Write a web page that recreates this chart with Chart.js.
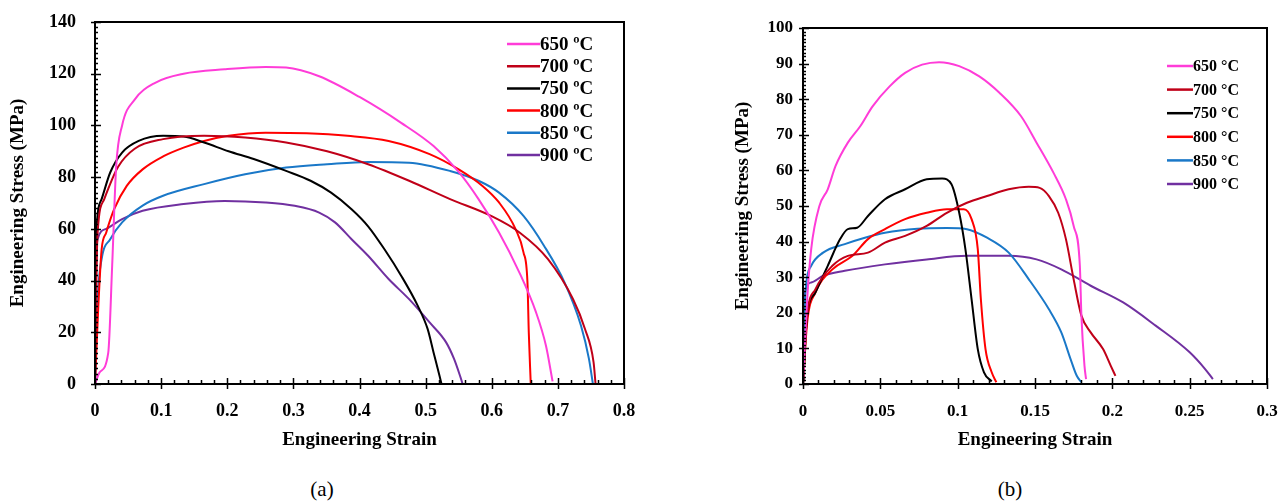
<!DOCTYPE html>
<html>
<head>
<meta charset="utf-8">
<script src="https://cdn.jsdelivr.net/npm/chart.js@4.4.0/dist/chart.umd.min.js"></script>
<style>
  body { margin: 0; background: #fff; width: 1282px; height: 502px; position: relative; overflow: hidden; font-family: 'Liberation Serif', serif; }
  #wrapA { position: absolute; left: 0; top: 0; width: 640px; height: 455px; }
  #wrapB { position: absolute; left: 640px; top: 0; width: 642px; height: 455px; }
  .cap { position: absolute; top: 477px; font-size: 21px; transform: translateX(-50%); color: #000; }
</style>
</head>
<body>
<div id="wrapA"><canvas id="chartA" width="640" height="455"></canvas></div>
<div id="wrapB"><canvas id="chartB" width="642" height="455"></canvas></div>
<div class="cap" style="left:322px">(a)</div>
<div class="cap" style="left:1010px">(b)</div>

<script>
// --- data: panel (a) ---
const labelsA = ['650 ºC', '700 ºC', '750 ºC', '800 ºC', '850 ºC', '900 ºC'];
const labelsB = ['650 °C', '700 °C', '750 °C', '800 °C', '850 °C', '900 °C'];
const colors = ['#ff3cd8', '#c00018', '#000000', '#ff0000', '#1a78c8', '#7030a0'];

const strainA650 = [0, 0.007, 0.02, 0.026, 0.032, 0.041, 0.06, 0.091, 0.134, 0.196, 0.258, 0.289, 0.339, 0.4, 0.463, 0.512, 0.55, 0.58, 0.611, 0.642, 0.667, 0.682, 0.692];
const stressA650 = [0, 4.5, 12, 46, 84, 100, 110, 116.5, 120, 121.7, 122.6, 122.4, 119, 111, 101, 92, 82, 71.5, 58.6, 43, 27.7, 14.8, 1];
const strainA700 = [0, 0.002, 0.004, 0.014, 0.035, 0.06, 0.103, 0.165, 0.227, 0.289, 0.351, 0.413, 0.475, 0.537, 0.599, 0.642, 0.685, 0.723, 0.741, 0.754, 0.757];
const stressA700 = [0, 40, 58.6, 71.5, 84, 91, 94.7, 96, 95.3, 93.4, 90, 85, 78.6, 71.5, 65, 58.6, 48.3, 32.8, 21.3, 8.4, 0];
const strainA750 = [0, 0.001, 0.002, 0.01, 0.023, 0.041, 0.066, 0.103, 0.134, 0.165, 0.202, 0.24, 0.289, 0.326, 0.357, 0.388, 0.413, 0.438, 0.463, 0.488, 0.503, 0.512, 0.521, 0.524];
const stressA750 = [0, 45, 58.6, 71.5, 81.8, 89.5, 94, 96, 95.7, 93.4, 90, 87, 82.4, 78.6, 74, 67.6, 61, 52, 41.9, 30.3, 21.3, 12.2, 3.2, 0];
const strainA800 = [0, 0.005, 0.01, 0.017, 0.029, 0.048, 0.072, 0.103, 0.134, 0.165, 0.202, 0.258, 0.32, 0.382, 0.444, 0.506, 0.55, 0.586, 0.611, 0.636, 0.648, 0.654, 0.656, 0.659];
const stressA800 = [0, 30, 52, 58.6, 67.6, 76.6, 83, 88, 91.4, 94, 96, 97.2, 97, 96, 94, 88.9, 83, 76.6, 70.2, 59.9, 50.9, 39.3, 20, 0];
const strainA850 = [0, 0.004, 0.01, 0.023, 0.041, 0.072, 0.103, 0.165, 0.227, 0.289, 0.351, 0.413, 0.475, 0.537, 0.58, 0.611, 0.648, 0.679, 0.71, 0.735, 0.747, 0.753];
const stressA850 = [0, 32.8, 48.3, 56, 62.5, 69, 72.8, 77.3, 81.1, 83.7, 85, 85.9, 85.6, 82.4, 78.6, 74, 65, 53.5, 39.3, 22.5, 9.7, 0];
const strainA900 = [0, 0.002, 0.004, 0.017, 0.041, 0.072, 0.134, 0.196, 0.258, 0.302, 0.339, 0.363, 0.388, 0.413, 0.444, 0.475, 0.506, 0.531, 0.543, 0.552, 0.556];
const stressA900 = [0, 48, 56, 60, 63.8, 67, 69.6, 70.8, 70.2, 68.9, 66.3, 62.5, 56, 49.6, 40.6, 32.8, 23.8, 16.1, 9.7, 3.2, 0];

// --- data: panel (b) ---
const strainB650 = [0, 0.0027, 0.0053, 0.0106, 0.016, 0.021, 0.029, 0.037, 0.045, 0.056, 0.066, 0.077, 0.088, 0.101, 0.114, 0.127, 0.141, 0.151, 0.162, 0.17, 0.175, 0.179, 0.18, 0.182, 0.183];
const stressB650 = [0, 23.8, 37.9, 50, 54.7, 61.2, 67.8, 72.4, 78, 83.6, 87.4, 89.7, 90.4, 89.3, 86.4, 81.8, 75.2, 67.8, 59.3, 51.9, 44.4, 33.2, 19.2, 5.1, 1.4];
const strainB700 = [0, 0.0027, 0.008, 0.019, 0.029, 0.042, 0.053, 0.066, 0.08, 0.093, 0.106, 0.119, 0.133, 0.146, 0.153, 0.159, 0.165, 0.17, 0.175, 0.18, 0.186, 0.194, 0.199, 0.202];
const stressB700 = [0, 19.2, 26.6, 33.2, 36, 36.9, 39.7, 41.6, 44.4, 48.1, 50.9, 52.8, 54.7, 55.4, 55.1, 52.8, 48.1, 40.7, 29.4, 19.2, 14.5, 9.8, 5.1, 2.3];
const strainB750 = [0, 0.0027, 0.008, 0.016, 0.024, 0.029, 0.035, 0.042, 0.053, 0.066, 0.08, 0.09, 0.096, 0.101, 0.105, 0.109, 0.113, 0.117, 0.122];
const stressB750 = [0, 19.2, 25.7, 33.2, 40.7, 43.5, 43.9, 47.2, 51.9, 54.7, 57.5, 57.7, 56.1, 48.1, 37.9, 23.8, 9.8, 3.3, 0.7];
const strainB800 = [0, 0.0027, 0.008, 0.019, 0.032, 0.042, 0.053, 0.066, 0.08, 0.093, 0.104, 0.109, 0.113, 0.115, 0.118, 0.122, 0.125];
const stressB800 = [0, 17.3, 25.7, 32.2, 36, 40.7, 43.5, 46.3, 48.1, 49.1, 49.1, 46.3, 37.9, 23.8, 9.8, 3.3, 0.5];
const strainB850 = [0, 0.0013, 0.0053, 0.013, 0.027, 0.04, 0.053, 0.074, 0.093, 0.106, 0.119, 0.133, 0.146, 0.159, 0.167, 0.173, 0.177, 0.18];
const stressB850 = [0, 23.8, 33.2, 36.9, 39.3, 41.1, 42.5, 43.6, 43.8, 43.5, 41.1, 36.9, 29.4, 21, 14.5, 7, 2.3, 0.5];
const strainB900 = [0, 0.0013, 0.0053, 0.013, 0.027, 0.053, 0.08, 0.106, 0.133, 0.151, 0.167, 0.186, 0.207, 0.228, 0.25, 0.26, 0.265];
const stressB900 = [0, 25.7, 28.5, 30.4, 31.8, 33.6, 35, 36, 36, 35, 32.2, 27.6, 22.9, 16.4, 8.9, 4.2, 1.4];

const seriesA = [[strainA650, stressA650], [strainA700, stressA700], [strainA750, stressA750], [strainA800, stressA800], [strainA850, stressA850], [strainA900, stressA900]];
const seriesB = [[strainB650, stressB650], [strainB700, stressB700], [strainB750, stressB750], [strainB800, stressB800], [strainB850, stressB850], [strainB900, stressB900]];

Chart.defaults.font.family = "'Liberation Serif', serif";
Chart.defaults.font.weight = 'bold';
Chart.defaults.color = '#000';

// frame, minor ticks and in-plot legend
const figFrame = {
    id: 'figFrame',
    afterDraw(chart, args, opts) {
        const { ctx, chartArea: a, scales: { x, y } } = chart;
        ctx.save();
        ctx.strokeStyle = '#000';
        ctx.lineWidth = 1.5;
        // minor ticks
        ctx.beginPath();
        for (let v = x.min; v <= x.max + 1e-9; v += opts.xMinor) {
            const px = Math.round(x.getPixelForValue(v)) + 0.5;
            ctx.moveTo(px, a.bottom); ctx.lineTo(px, a.bottom - 4);
        }
        for (let v = y.min; v <= y.max + 1e-9; v += opts.yMinor) {
            const py = Math.round(y.getPixelForValue(v)) + 0.5;
            ctx.moveTo(a.left, py); ctx.lineTo(a.left + 3, py);
        }
        // major ticks cross the axis
        x.ticks.forEach(t => {
            const px = Math.round(x.getPixelForValue(t.value)) + 0.5;
            ctx.moveTo(px, a.bottom - 6); ctx.lineTo(px, a.bottom + 5);
        });
        y.ticks.forEach(t => {
            const py = Math.round(y.getPixelForValue(t.value)) + 0.5;
            ctx.moveTo(a.left - 4, py); ctx.lineTo(a.left + 6, py);
        });
        ctx.stroke();
        // box
        ctx.lineWidth = 2;
        ctx.strokeRect(a.left, a.top, a.right - a.left, a.bottom - a.top);
        // legend
        ctx.font = 'bold ' + opts.fontSize + 'px "Liberation Serif"';
        ctx.textBaseline = 'middle';
        ctx.textAlign = 'left';
        chart.data.datasets.forEach((ds, i) => {
            const ly = opts.legendY + i * opts.legendGap;
            ctx.strokeStyle = ds.borderColor;
            ctx.lineWidth = 2.5;
            ctx.beginPath();
            ctx.moveTo(opts.legendX, ly); ctx.lineTo(opts.legendX + opts.legendLine, ly);
            ctx.stroke();
            ctx.fillStyle = '#000';
            ctx.fillText(ds.label, opts.legendX + opts.legendLine, ly + 1);
        });
        ctx.restore();
    }
};

function fmt(v) { return String(+v.toFixed(2)); }

function makeChart(id, series, labels, cfg) {
    const datasets = series.map((s, i) => ({
        label: labels[i],
        data: s[0].map((xv, k) => ({ x: xv, y: s[1][k] })),
        borderColor: colors[i],
        showLine: true,
        borderWidth: 2,
        pointRadius: 0,
        cubicInterpolationMode: 'monotone'
    }));
    return new Chart(document.getElementById(id), {
        type: 'scatter',
        data: { datasets },
        plugins: [figFrame],
        options: {
            responsive: false,
            animation: false,
            layout: { padding: cfg.padding },
            plugins: { legend: { display: false }, tooltip: { enabled: false }, figFrame: cfg.frame },
            scales: {
                x: {
                    type: 'linear', min: 0, max: cfg.xMax,
                    ticks: { stepSize: cfg.xStep, padding: 17, font: { size: cfg.tickSize }, callback: fmt },
                    grid: { display: false, drawTicks: false },
                    border: { display: false },
                    title: { display: true, text: 'Engineering Strain', font: { size: 19 } },
                    afterFit(s) { s.height = 71; s.paddingLeft = 0; s.paddingRight = 0; }
                },
                y: {
                    type: 'linear', min: 0, max: cfg.yMax,
                    ticks: { stepSize: cfg.yStep, padding: cfg.yPad, font: { size: cfg.tickSize }, callback: fmt },
                    grid: { display: false, drawTicks: false },
                    border: { display: false },
                    title: { display: true, text: 'Engineering Stress (MPa)', font: { size: 19 } },
                    afterFit(s) { s.width = cfg.yWidth; s.paddingTop = 0; s.paddingBottom = 0; }
                }
            }
        }
    });
}

makeChart('chartA', seriesA, labelsA, {
    padding: { left: 3, right: 16, top: 22, bottom: 0 },
    xMax: 0.8, xStep: 0.1, yMax: 140, yStep: 20, tickSize: 18, yPad: 19, yWidth: 92,
    frame: { xMinor: 0.02, yMinor: 2, legendX: 507, legendY: 44, legendGap: 22.2, legendLine: 33, fontSize: 19 }
});

makeChart('chartB', seriesB, labelsB, {
    padding: { left: 88, right: 15, top: 28, bottom: 0 },
    xMax: 0.3, xStep: 0.05, yMax: 100, yStep: 10, tickSize: 17, yPad: 10, yWidth: 75,
    frame: { xMinor: 0.01, yMinor: 1, legendX: 527, legendY: 66, legendGap: 23.6, legendLine: 26, fontSize: 16 }
});
</script>
</body>
</html>
